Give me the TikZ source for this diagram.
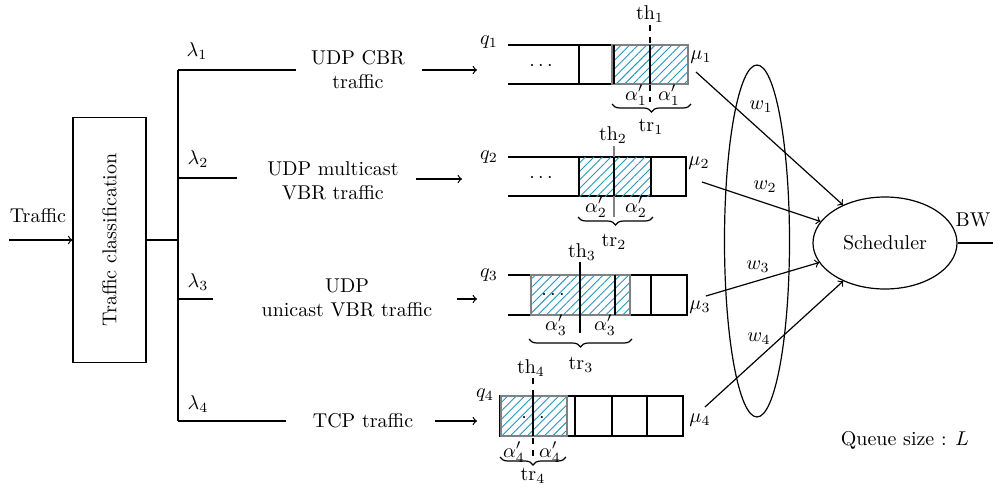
\documentclass[tikz,border=0pt]{standalone}
\usetikzlibrary{patterns.meta,shapes.geometric,decorations.pathreplacing,positioning}
\definecolor{hatchblue}{RGB}{35,150,190}
\tikzset{
  flow/.style={->,>=to,semithick},
  cell/.style={line width=1.2pt},
  hatched/.style={pattern={Lines[angle=45,distance=3pt,line width=0.45pt]},pattern color=hatchblue},
  hframe/.style={draw=gray,line width=1pt},
  under/.style={decorate,decoration={brace,mirror,amplitude=4pt}},
}

\begin{document}
\begin{tikzpicture}[x=0.5pt,y=-0.5pt,line width=0.6pt]
\useasboundingbox (0,0) rectangle (993,488);

% classification
\coordinate (in) at (9,240);
\node [draw, rotate=90, minimum width=122.5pt, minimum height=36.5pt]
      (cls) at (109.5,240) {Traffic classification};
\node (traffic) at (38,216) {Traffic};
\draw[flow] (in) -- (cls.north);

\coordinate (split) at (178,240);
\coordinate (b1) at (178,70);
\coordinate (b2) at (178,178);
\coordinate (b3) at (178,299);
\coordinate (b4) at (178,421);
\draw[semithick] (cls.south) -- (split);
\draw (b1) -- (b4);

% branches
\coordinate (e1) at (296,70);
\coordinate (e2) at (237,178);
\coordinate (e3) at (213,299);
\coordinate (e4) at (286,421);
\draw (b1) -- (e1);
\draw (b2) -- (e2);
\draw (b3) -- (e3);
\draw (b4) -- (e4);
\node (lam1) at (197,51) {$\lambda_1$};
\node (lam2) at (198,159) {$\lambda_2$};
\node (lam3) at (198,282) {$\lambda_3$};
\node (lam4) at (198,404) {$\lambda_4$};

\node [align=center] (cbr) at (358,70) {UDP CBR\\traffic};
\node [align=center] (mvbr) at (333,181) {UDP multicast\\VBR traffic};
\node [align=center] (uvbr) at (347,298) {UDP\\unicast VBR traffic};
\node (tcp) at (363,421) {TCP traffic};

\coordinate (a1) at (422,70);  \coordinate (q1in) at (477,70);
\coordinate (a2) at (416,179); \coordinate (q2in) at (462,179);
\coordinate (a3) at (457,299); \coordinate (q3in) at (477,299);
\coordinate (a4) at (435,421); \coordinate (q4in) at (477,421);
\draw[flow] (a1) -- (q1in);
\draw[flow] (a2) -- (q2in);
\draw[flow] (a3) -- (q3in);
\draw[flow] (a4) -- (q4in);

% queue 1
\draw (508,45) -- (688,45) (508,84) -- (688,84);
\fill[hatched] (612,45) rectangle (688,84);
\draw[hframe] (612,45) rectangle (688,84);
\draw (579,45) -- (579,84);
\draw[cell] (614,45) -- (614,84) (650,45) -- (650,84);
\draw[dashed] (650,25) -- (650,102);
\node (dots1) at (541,66) {$\cdots$};
\node (q1) at (489,42) {$q_1$};
\node (mu1) at (701,57) {$\mu_1$};
\node (th1) at (650,14) {$\mathrm{th}_1$};
\node (al1a) at (636,95) {$\alpha'_1$};
\node (al1b) at (669,95) {$\alpha'_1$};
\draw[under] (612,104) -- (691,104);
\node (tr1) at (651,127) {$\mathrm{tr}_1$};

% queue 2
\draw (508,157) -- (686,157) -- (686,196) -- (508,196);
\fill[hatched] (579,157) rectangle (651,196);
\draw[gray] (614,146) -- (614,217);
\draw[cell] (579,157) -- (579,196) (614,157) -- (614,196) (651,157) -- (651,196);
\node (dots2) at (541,178) {$\cdots$};
\node (q2) at (489,157) {$q_2$};
\node (mu2) at (699,163) {$\mu_2$};
\node (th2) at (613,135) {$\mathrm{th}_2$};
\node (al2a) at (596,207) {$\alpha'_2$};
\node (al2b) at (636,207) {$\alpha'_2$};
\draw[under] (578,217) -- (653,217);
\node (tr2) at (614,242) {$\mathrm{tr}_2$};

% queue 3
\draw (508,275) -- (687,275) -- (687,315) -- (508,315);
\fill[hatched] (531,275) rectangle (630,315);
\draw[hframe] (531,275) rectangle (630,315);
\draw[cell] (580,275) -- (580,315) (615,275) -- (615,315) (651,275) -- (651,315);
\draw (580,262) -- (580,333);
\node (dots3) at (553,295) {$\cdots$};
\node (q3) at (489,275) {$q_3$};
\node (mu3) at (700,307) {$\mu_3$};
\node (th3) at (582,252) {$\mathrm{th}_3$};
\node (al3a) at (556,325) {$\alpha'_3$};
\node (al3b) at (605,325) {$\alpha'_3$};
\draw[under] (529,339) -- (632,339);
\node (tr3) at (581,365) {$\mathrm{tr}_3$};

% queue 4
\draw (500,396) rectangle (683,436);
\fill[hatched] (501,396) rectangle (567,436);
\draw[hframe] (501,396) rectangle (567,436);
\draw[cell] (533,396) -- (533,436) (575,396) -- (575,436) (612,396) -- (612,436) (647,396) -- (647,436);
\draw[dashed] (533,378) -- (533,458);
\node (dots4) at (533,418) {$\cdots$};
\node (q4) at (485,395) {$q_4$};
\node (mu4) at (700,420) {$\mu_4$};
\node (th4) at (531,368) {$\mathrm{th}_4$};
\node (al4a) at (514,452) {$\alpha'_4$};
\node (al4b) at (550,452) {$\alpha'_4$};
\draw[under] (500,457) -- (566,457);
\node (tr4) at (533,476) {$\mathrm{tr}_4$};

% scheduler
\node [draw, ellipse, minimum width=32.5pt, minimum height=176pt, inner sep=0pt]
      (wts) at (757,241) {};
\node [draw, ellipse, minimum width=72pt, minimum height=46pt, inner sep=0pt]
      (sched) at (885,243) {Scheduler};
\coordinate (bw) at (993,243);
\draw[thick] (sched.east) -- (bw);
\node (bwl) at (973,220) {BW};

\coordinate (s1) at (696,72);
\coordinate (s2) at (702,182);
\coordinate (s3) at (706,296);
\coordinate (s4) at (705,407);
\draw[flow] (s1) -- (sched);
\draw[flow] (s2) -- (sched);
\draw[flow] (s3) -- (sched);
\draw[flow] (s4) -- (sched);
\node (w1) at (761,107) {$w_1$};
\node (w2) at (765,187) {$w_2$};
\node (w3) at (758,267) {$w_3$};
\node (w4) at (759,339) {$w_4$};

\node (qsize) at (905,440) {Queue size : $L$};
\end{tikzpicture}
\end{document}
